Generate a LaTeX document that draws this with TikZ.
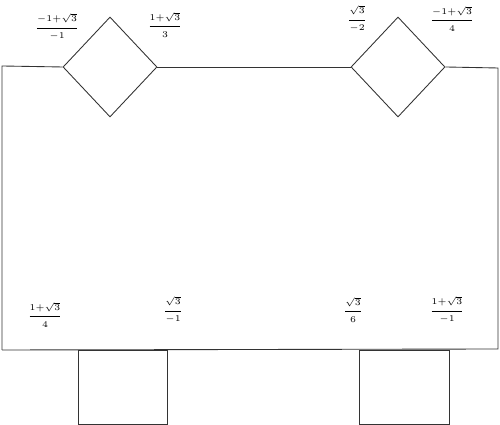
\documentclass[tikz,border=0pt]{standalone}
\usepackage{amsmath, amssymb}
\usetikzlibrary{shapes.geometric}
\begin{document}
\begin{tikzpicture}[line width=0.5pt,
        gate_style/.style={diamond,draw=black!80,minimum width=1.88cm,minimum height=2cm,inner sep=0pt},
        box_style/.style={rectangle,draw=black!80,anchor=north,minimum height=1.48cm,inner sep=0pt},
        label_style/.style={font=\fontsize{5.5}{6}\selectfont,inner sep=0pt},
        wire_style/.style={draw=black!80}]
        \useasboundingbox (0,0) rectangle (10,8.5);

        \node [gate_style](d1) at (2.2,7.16) {};

        \node [gate_style](d2) at (7.96,7.16) {};

        \node [box_style,minimum width=1.78cm](r1) at (2.45,1.5) {};

        \node [box_style,minimum width=1.8cm](r2) at (8.08,1.5) {};

        \coordinate (tl) at (0.04,7.18);
        \coordinate (tr) at (9.96,7.14);
        \coordinate (br) at (9.96,1.52);
        \coordinate (bl) at (0.04,1.5);

        \draw [wire_style] (bl) -- (tl) -- (d1.west);

        \draw [wire_style] (d1.east) -- (d2.west);

        \draw [wire_style] (d2.east) -- (tr) -- (br) -- (bl);

        \node [label_style](l1) at (1.14,7.96) {$\dfrac{-1{+}\sqrt{3}}{-1}$};

        \node [label_style](l2) at (3.3,8.0) {$\dfrac{1{+}\sqrt{3}}{3}$};

        \node [label_style](l3) at (7.14,8.12) {$\dfrac{\sqrt{3}}{-2}$};

        \node [label_style](l4) at (9.04,8.12) {$\dfrac{-1{+}\sqrt{3}}{4}$};

        \node [label_style](l5) at (0.9,2.2) {$\dfrac{1{+}\sqrt{3}}{4}$};

        \node [label_style](l6) at (3.46,2.3) {$\dfrac{\sqrt{3}}{-1}$};

        \node [label_style](l7) at (7.06,2.3) {$\dfrac{\sqrt{3}}{6}$};

        \node [label_style](l8) at (8.94,2.3) {$\dfrac{1{+}\sqrt{3}}{-1}$};

\end{tikzpicture}
\end{document}
